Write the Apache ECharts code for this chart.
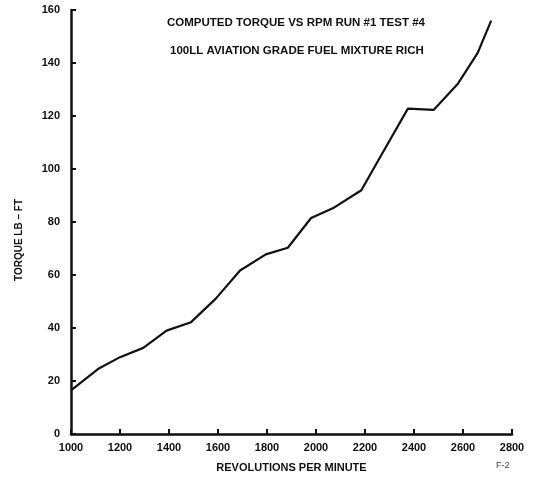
<!DOCTYPE html>
<html>
<head>
<meta charset="utf-8">
<title>Computed Torque vs RPM</title>
<script src="https://cdn.jsdelivr.net/npm/echarts@6/dist/echarts.min.js"></script>
<style>
  html, body { margin: 0; padding: 0; background: #fff; }
  #chart { width: 537px; height: 480px; }
</style>
</head>
<body>
<div id="chart"></div>
<script>
// Engine speed (rpm) at each measured point
const rpm = [1000, 1110, 1200, 1295, 1390, 1490, 1590, 1690, 1795, 1885,
             1980, 2075, 2185, 2265, 2375, 2480, 2580, 2660, 2715];
// Computed torque (lb-ft) at each speed
const torque = [16.5, 24.5, 29, 32.5, 39, 42.2, 51, 61.7, 67.8, 70.3,
                81.5, 85.5, 92, 105, 122.8, 122.3, 132.3, 143.8, 156];

const titleLines = [
  'COMPUTED TORQUE VS RPM RUN #1 TEST #4',
  '100LL AVIATION GRADE FUEL MIXTURE RICH'
];

const FONT = '"Liberation Sans Narrow", "Liberation Sans", Arial, sans-serif';
const INK = '#111';

const chart = echarts.init(document.getElementById('chart'), null, { renderer: 'canvas' });

chart.setOption({
  backgroundColor: '#fff',
  animation: false,
  grid: { left: 71, right: 25, top: 10, bottom: 46, containLabel: false },
  xAxis: {
    type: 'value',
    min: 1000, max: 2800, interval: 200,
    name: 'REVOLUTIONS PER MINUTE',
    nameLocation: 'middle',
    nameGap: 28,
    nameTextStyle: { fontFamily: FONT, fontWeight: 'bold', fontSize: 11, color: INK },
    axisLine: { show: true, onZero: false, lineStyle: { color: INK, width: 2.5 } },
    axisTick: { show: true, inside: true, length: 5, lineStyle: { color: INK, width: 2 } },
    axisLabel: {
      fontFamily: FONT, fontWeight: 'bold', fontSize: 11, color: INK, margin: 8,
      formatter: v => String(v)
    },
    splitLine: { show: false }
  },
  yAxis: {
    type: 'value',
    min: 0, max: 160, interval: 20,
    axisLine: { show: true, lineStyle: { color: INK, width: 2.5 } },
    axisTick: { show: true, inside: true, length: 5, lineStyle: { color: INK, width: 2 } },
    axisLabel: { fontFamily: FONT, fontWeight: 'bold', fontSize: 11, color: INK, margin: 11 },
    splitLine: { show: false }
  },
  series: [{
    type: 'line',
    data: rpm.map((r, i) => [r, torque[i]]),
    showSymbol: false,
    smooth: false,
    lineStyle: { color: INK, width: 2.2 }
  }],
  graphic: [
    {
      type: 'text', left: 167, top: 17,
      style: { text: titleLines[0], font: 'bold 11.5px ' + FONT, fill: INK }
    },
    {
      type: 'text', left: 170, top: 45,
      style: { text: titleLines[1], font: 'bold 11.5px ' + FONT, fill: INK }
    },
    {
      // vertical axis title
      type: 'text', x: 19, y: 240, rotation: Math.PI / 2,
      style: {
        text: 'TORQUE LB \u2013 FT', font: 'bold 10px ' + FONT, fill: INK,
        align: 'center', verticalAlign: 'middle'
      }
    },
    {
      type: 'text', left: 496, top: 461,
      style: { text: 'F-2', font: '9px ' + FONT, fill: '#444' }
    }
  ]
});
</script>
</body>
</html>
